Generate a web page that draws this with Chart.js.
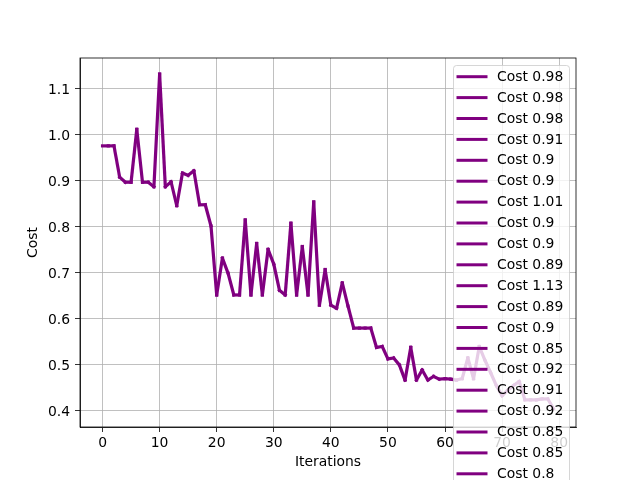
<!DOCTYPE html>
<html>
<head>
<meta charset="utf-8">
<script src="https://cdn.jsdelivr.net/npm/chart.js@4.4.0/dist/chart.umd.min.js"></script>
<style>
  html, body { margin: 0; padding: 0; background: #fff; }
  #wrap { width: 640px; height: 480px; position: relative; }
</style>
</head>
<body>
<div id="wrap"><canvas id="costChart" width="640" height="480"></canvas></div>
<script>
// cost per iteration (x = index)
const costs = [
  0.976, 0.976, 0.976, 0.908, 0.897, 0.897, 1.012, 0.897, 0.897, 0.887,
  1.132, 0.887, 0.898, 0.846, 0.917, 0.912, 0.922, 0.848, 0.848, 0.802,
  0.652, 0.732, 0.699, 0.652, 0.652, 0.815, 0.652, 0.764, 0.652, 0.751,
  0.719, 0.662, 0.652, 0.808, 0.652, 0.757, 0.652, 0.854, 0.630, 0.707,
  0.630, 0.623, 0.678, 0.628, 0.580, 0.580, 0.580, 0.580, 0.538, 0.540,
  0.513, 0.515, 0.500, 0.467, 0.538, 0.467, 0.489, 0.467, 0.475, 0.469,
  0.470, 0.469, 0.467, 0.470, 0.515, 0.470, 0.540, 0.510, 0.483, 0.455,
  0.433, 0.445, 0.455, 0.464, 0.424, 0.424, 0.424, 0.426, 0.426, 0.405
];
const xTicks = [0, 10, 20, 30, 40, 50, 60, 70, 80];
const yTicks = [0.4, 0.5, 0.6, 0.7, 0.8, 0.9, 1.0, 1.1];

const purple = "#800080";
const fontFamily = "'DejaVu Sans', sans-serif";

function fmt(v) {
  return String(Number(v.toFixed(2)));
}

// one dataset per segment, like the original plot
const datasets = [];
for (let i = 0; i < costs.length - 1; i++) {
  datasets.push({
    label: "Cost " + fmt(costs[i]),
    data: [{ x: i, y: costs[i] }, { x: i + 1, y: costs[i + 1] }],
    borderColor: purple,
    borderWidth: 3.2,
    borderCapStyle: "square",
    pointRadius: 0,
    tension: 0,
    fill: false
  });
}

const frame = {
  id: "frame",
  afterDatasetsDraw(chart) {
    const { ctx, chartArea: a } = chart;
    ctx.save();
    ctx.strokeStyle = "#000";
    ctx.lineWidth = 0.8;
    ctx.strokeRect(a.left, a.top, a.right - a.left, a.bottom - a.top);
    ctx.restore();
  }
};

const overlayLegend = {
  id: "overlayLegend",
  afterDraw(chart) {
    const ctx = chart.ctx;
    const x0 = 453, y0 = 65, w = 116;
    const rowH = 20.9, firstY = 76.7;
    const n = chart.data.datasets.length;
    const h = firstY - y0 + rowH * n;
    ctx.save();
    ctx.beginPath();
    ctx.roundRect(x0 + 0.5, y0 + 0.5, w, h, 3);
    ctx.fillStyle = "rgba(255,255,255,0.8)";
    ctx.fill();
    ctx.strokeStyle = "rgba(204,204,204,0.8)";
    ctx.lineWidth = 1;
    ctx.stroke();
    ctx.font = "13.9px " + fontFamily;
    ctx.textBaseline = "middle";
    ctx.textAlign = "left";
    chart.data.datasets.forEach((ds, i) => {
      const y = firstY + rowH * i;
      if (y > 500) return;
      ctx.beginPath();
      ctx.moveTo(458, y);
      ctx.lineTo(486, y);
      ctx.strokeStyle = ds.borderColor;
      ctx.lineWidth = 3;
      ctx.lineCap = "square";
      ctx.stroke();
      ctx.fillStyle = "#000";
      ctx.fillText(ds.label, 497, y + 0.5);
    });
    ctx.restore();
  }
};

const tickFont = { family: fontFamily, size: 13.9 };

new Chart(document.getElementById("costChart").getContext("2d"), {
  type: "line",
  data: { datasets: datasets },
  options: {
    responsive: false,
    animation: false,
    layout: { padding: { top: 58, right: 64, left: 0, bottom: 0 } },
    plugins: { legend: { display: false }, tooltip: { enabled: false } },
    scales: {
      x: {
        type: "linear",
        min: -3.95,
        max: 82.95,
        afterBuildTicks: s => { s.ticks = xTicks.map(v => ({ value: v })); },
        afterFit: s => { s.height = 53; },
        grid: { color: "#b0b0b0", lineWidth: 0.8, tickColor: "#000", tickLength: 5 },
        border: { color: "#000", width: 0.8 },
        ticks: { color: "#000", font: tickFont, padding: 3, maxRotation: 0, callback: v => String(v) },
        title: { display: true, text: "Iterations", color: "#000", font: tickFont, padding: { top: 0, bottom: 9.7 } }
      },
      y: {
        type: "linear",
        min: 0.365,
        max: 1.167,
        afterBuildTicks: s => { s.ticks = yTicks.map(v => ({ value: v })); },
        afterFit: s => { s.width = 80; },
        grid: { color: "#b0b0b0", lineWidth: 0.8, tickColor: "#000", tickLength: 5 },
        border: { color: "#000", width: 0.8 },
        ticks: { color: "#000", font: tickFont, padding: 5, labelOffset: 1.5, callback: v => v.toFixed(1) },
        title: { display: true, text: "Cost", color: "#000", font: tickFont, padding: { top: 25, bottom: 0 } }
      }
    }
  },
  plugins: [frame, overlayLegend]
});
</script>
</body>
</html>
